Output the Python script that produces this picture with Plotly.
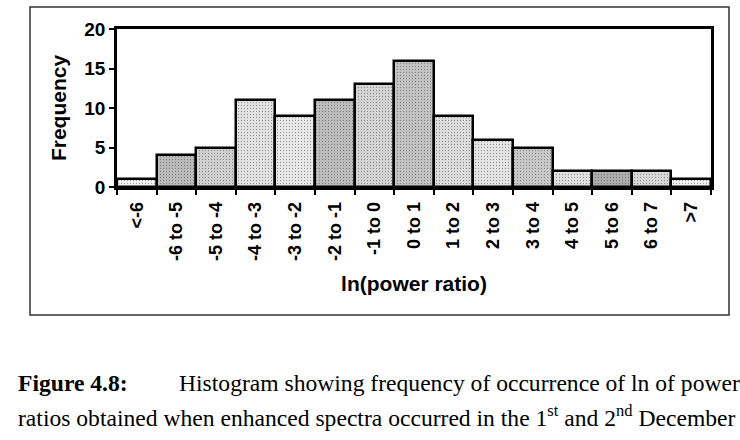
import plotly.graph_objects as go

categories = ["<-6", "-6 to -5", "-5 to -4", "-4 to -3", "-3 to -2", "-2 to -1",
              "-1 to 0", "0 to 1", "1 to 2", "2 to 3", "3 to 4", "4 to 5",
              "5 to 6", "6 to 7", ">7"]
frequency = [1, 4, 5, 11, 9, 11, 13, 16, 9, 6, 5, 2, 2, 2, 1]
y_ticks = [0, 5, 10, 15, 20]

bar_colors = ["#f4f4f4", "#bcbcbc", "#d2d2d2", "#e4e4e4", "#ebebeb", "#bebebe",
              "#d6d6d6", "#c4c4c4", "#dedede", "#e6e6e6", "#cacaca", "#e2e2e2",
              "#aeaeae", "#dadada", "#f4f4f4"]

L, T, W, H = 117, 29, 594, 158
FW, FH = 740, 440

def px(x):
    return (x - L) / W

def py(y):
    return (T + H - y) / H

fig = go.Figure()
fig.add_trace(go.Bar(
    x=categories, y=frequency,
    marker=dict(color=bar_colors, line=dict(color="black", width=2.5),
                pattern=dict(shape=".", fgcolor="#8a8a8a", size=3, solidity=0.15)),
    width=1.0,
))

sans = "Liberation Sans, Arial"

fig.update_layout(
    width=FW, height=FH,
    margin=dict(l=L, r=FW - L - W, t=T, b=FH - T - H),
    paper_bgcolor="white", plot_bgcolor="white",
    showlegend=False, bargap=0,
    xaxis=dict(
        type="category", tickangle=-90, ticks="outside", tickson="boundaries",
        ticklen=5, tickwidth=1.5, tickcolor="black", ticklabelstandoff=5,
        showline=True, linecolor="black", linewidth=2.5, mirror=True,
        showgrid=False, range=[-0.5, 14.5],
        tickfont=dict(family=sans, size=18, color="black", weight="bold"),
        title=dict(text="<b>ln(power ratio)</b>",
                   font=dict(family=sans, size=21, color="black"),
                   standoff=17),
    ),
    yaxis=dict(
        range=[0, 20], tickvals=y_ticks, ticks="outside", ticklen=5,
        tickwidth=1.5, tickcolor="black",
        showline=True, linecolor="black", linewidth=2.5, mirror=True,
        showgrid=False, zeroline=False,
        tickfont=dict(family=sans, size=19, color="black", weight="bold"),
        title=dict(text="<b>Frequency</b>",
                   font=dict(family=sans, size=21, color="black"),
                   standoff=12),
    ),
)

# outer frame of chart area
fig.add_shape(type="rect", xref="paper", yref="paper",
              x0=px(30), x1=px(729), y0=py(315), y1=py(7),
              line=dict(color="#333", width=1.5), fillcolor="rgba(0,0,0,0)",
              layer="below")

cap_font = dict(family="Liberation Serif, Times New Roman", size=23.6, color="black")
fig.add_annotation(xref="paper", yref="paper", x=px(16), y=py(383),
                   xanchor="left", yanchor="middle", showarrow=False,
                   text="<b>Figure 4.8:</b>", font=cap_font)
fig.add_annotation(xref="paper", yref="paper", x=px(177), y=py(383),
                   xanchor="left", yanchor="middle", showarrow=False,
                   text="Histogram showing frequency of occurrence of ln of power",
                   font=cap_font)
fig.add_annotation(xref="paper", yref="paper", x=px(16), y=py(416),
                   xanchor="left", yanchor="middle", showarrow=False,
                   text="ratios obtained when enhanced spectra occurred in the 1<sup>st</sup> and 2<sup>nd</sup> December",
                   font=cap_font)

fig.write_html("out.html")
